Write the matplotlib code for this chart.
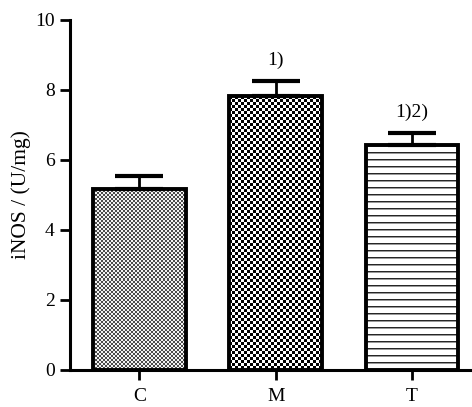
import numpy as np
import matplotlib
matplotlib.use("Agg")
import matplotlib.pyplot as plt

# data
groups = ["C", "M", "T"]
means = [5.18, 7.82, 6.42]
sem = [0.36, 0.44, 0.34]
marks = ["", "1)", "1)2)"]

plt.rcParams['font.family'] = ['Liberation Serif', 'DejaVu Serif']

fig = plt.figure(figsize=(4.72, 4.07), dpi=100)
ax = fig.add_axes([70 / 472, 37 / 407, 402 / 472, 350 / 407])

x = np.arange(len(groups))
ax.set_xlim(-0.51, 2.44)
ax.set_ylim(0, 10)

bars = ax.bar(x, means, width=0.68, facecolor='none', edgecolor='black',
              linewidth=2.8, zorder=3)
ax.errorbar(x, means, yerr=[np.zeros(len(sem)), sem], fmt='none', ecolor='black',
            elinewidth=2.0, capsize=17, capthick=3.0, zorder=2)


def texture(kind, h, w):
    r, c = np.indices((h, w))
    if kind == "fine":
        img = np.where(((r // 2) + (c // 2)) % 2 == 0, 0.3, 0.95)
    elif kind == "check":
        img = np.where(((r // 3) + (c // 3)) % 2 == 0, 0.0, 1.0)
    else:
        img = np.ones((h, w))
        img[r % 7 == 0] = 0.15
        img[r % 7 == 1] = 0.6
    return img


# fill each bar with its texture, clipped to the bar
for bar, kind in zip(bars, ["fine", "check", "lines"]):
    bb = bar.get_window_extent()
    h = max(int(round(bb.height)), 1)
    w = max(int(round(bb.width)), 1)
    im = ax.imshow(texture(kind, h, w), cmap='gray', vmin=0, vmax=1,
                   interpolation='nearest', aspect='auto', zorder=1,
                   extent=(bar.get_x(), bar.get_x() + bar.get_width(),
                           0, bar.get_height()))
    im.set_clip_path(bar)

ax.set_xlim(-0.51, 2.44)
ax.set_ylim(0, 10)

for xi, m, s, lab in zip(x, means, sem, marks):
    if lab:
        ax.text(xi, m + s + 0.6, lab, ha='center', va='center', fontsize=14)

ax.set_xticks(x)
ax.set_xticklabels(groups, fontsize=14)
ax.set_yticks(np.arange(0, 11, 2))
ax.tick_params(axis='y', labelsize=14, width=2, length=7, pad=4)
ax.tick_params(axis='x', width=2, length=7, pad=6)
ax.set_ylabel("iNOS / (U/mg)", fontsize=15.5, labelpad=3)

for side in ["top", "right"]:
    ax.spines[side].set_visible(False)
for side in ["left", "bottom"]:
    ax.spines[side].set_linewidth(2.2)

fig.savefig("out.png", dpi=100)
